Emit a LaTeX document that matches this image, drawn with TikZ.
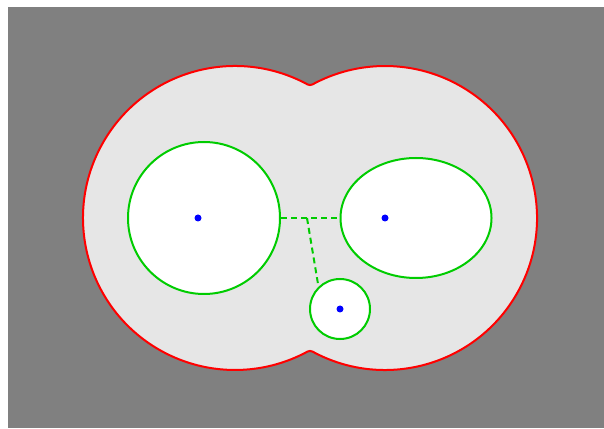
\documentclass[tikz,border=0pt]{standalone}
\usetikzlibrary{shapes.geometric}
\definecolor{bggray}{HTML}{808080}
\definecolor{regfill}{HTML}{E6E6E6}
\definecolor{holegreen}{HTML}{00CC00}
\tikzset{
  hole/.style={draw=holegreen, line width=2pt, fill=white, inner sep=0pt},
  dotmark/.style={circle, fill=blue, inner sep=0pt, minimum size=7pt},
  link/.style={draw=holegreen, line width=2pt, dash pattern=on 6pt off 4pt},
  outline/.style={draw=red, line width=2pt, fill=regfill}
}
\begin{document}
\begin{tikzpicture}[x=1pt,y=1pt]
\useasboundingbox (0,0) rectangle (604,428);
\fill[white] (0,0) rectangle (604,428);
\fill[bggray] (8,0) rectangle (604,421);
% outer region: union of two circles with rounded notches
\path[outline] (235,210) ++(61.46:152) arc[start angle=61.46, end angle=298.54, radius=152]
  arc[start angle=118.54, end angle=61.46, radius=5]
  arc[start angle=-118.54, end angle=118.54, radius=152]
  arc[start angle=-61.46, end angle=-118.54, radius=5] -- cycle;
% holes
\node[hole, circle, minimum size=152pt] (L) at (204,210) {};
\node[hole, ellipse, minimum width=151pt, minimum height=120pt] (E) at (416,210) {};
\node[hole, circle, minimum size=60pt] (S) at (340,119) {};
% connectors
\coordinate (J) at (307,210);
\draw[link] (L.east) -- (E.west);
\draw[link] (J) -- (S.134);
% points
\node[dotmark] (pL) at (198,210) {};
\node[dotmark] (pE) at (385,210) {};
\node[dotmark] (pS) at (340,119) {};
\end{tikzpicture}
\end{document}
